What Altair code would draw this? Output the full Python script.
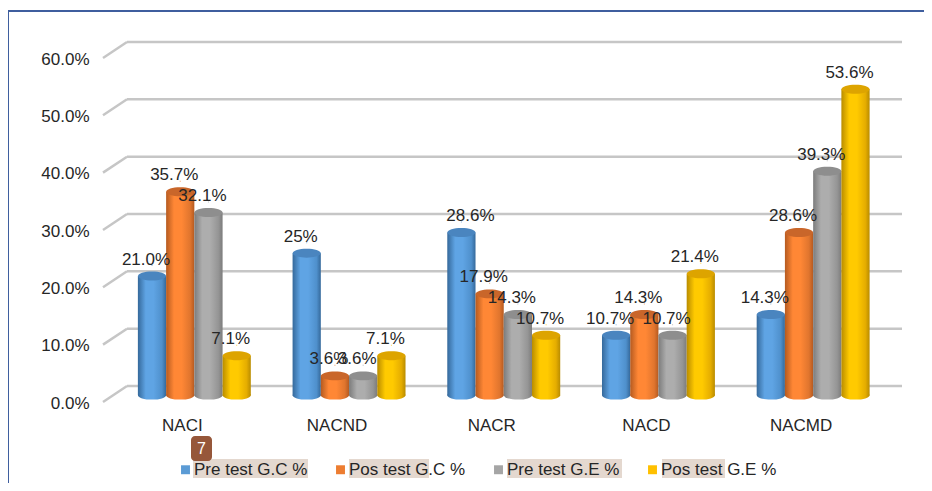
import altair as alt
import pandas as pd

categories = ["NACI", "NACND", "NACR", "NACD", "NACMD"]
series = ["Pre test G.C %", "Pos test G.C %", "Pre test G.E %", "Pos test G.E %"]
pre_gc = [0.21, 0.25, 0.286, 0.107, 0.143]
pos_gc = [0.357, 0.036, 0.179, 0.143, 0.286]
pre_ge = [0.321, 0.036, 0.143, 0.107, 0.393]
pos_ge = [0.071, 0.071, 0.107, 0.214, 0.536]
pre_gc_labels = ["21.0%", "25%", "28.6%", "10.7%", "14.3%"]
pos_gc_labels = ["35.7%", "3.6%", "17.9%", "14.3%", "28.6%"]
pre_ge_labels = ["32.1%", "3.6%", "14.3%", "10.7%", "39.3%"]
pos_ge_labels = ["7.1%", "7.1%", "10.7%", "21.4%", "53.6%"]
grid_values = [0, 0.1, 0.2, 0.3, 0.4, 0.5, 0.6]

swatches = ["#5B9BD5", "#ED7D31", "#A5A5A5", "#FFC000"]
caps = ["#4A85BF", "#C9662A", "#8E8E8E", "#DDA400"]
shades = [
    ("#35699B", "#5FA4E4", "#4F90CC"),
    ("#B55A20", "#FF8735", "#E0752E"),
    ("#7C7C7C", "#ADADAD", "#959595"),
    ("#B98C00", "#FFCA00", "#E5AD00"),
]
FONT = "Liberation Sans"
FS = 17
INK = "#262626"

rows = []
for s, vals, labs in zip(series, [pre_gc, pos_gc, pre_ge, pos_ge],
                         [pre_gc_labels, pos_gc_labels, pre_ge_labels, pos_ge_labels]):
    for c, v, l in zip(categories, vals, labs):
        rows.append({"cat": c, "series": s, "v": v, "label": l, "base": 0.005})
df = pd.DataFrame(rows)
grid = pd.DataFrame({"v": grid_values})
grid["v2"] = grid["v"] - 0.0279

yscale = alt.Scale(domain=[0, 0.6], range=[344, 0], nice=False, clamp=False)
xscale = alt.Scale(domain=categories, range=[14, 787.5], paddingInner=0.27, paddingOuter=0.135)
oscale = alt.Scale(domain=series)
YAXIS = alt.Axis(format=".1%", values=grid_values, grid=False, domain=False, ticks=False,
                 labelPadding=14, labelOffset=17, labelFontSize=FS, labelFont=FONT,
                 labelColor=INK)
Y = alt.Y("v:Q", scale=yscale, title=None, axis=YAXIS)
YBASE = alt.Y("base:Q", scale=yscale, title=None, axis=YAXIS)
X = alt.X("cat:N", scale=xscale, title=None, sort=categories,
          axis=alt.Axis(domain=False, ticks=False, labelAngle=0, labelPadding=31, labelOffset=-12,
                        labelFontSize=FS, labelFont=FONT, labelColor=INK))
XO = alt.XOffset("series:N", scale=oscale, sort=series)

ELLIPSE = "M-1,0A1,0.32,0,1,1,1,0A1,0.32,0,1,1,-1,0Z"

back = alt.Chart(grid).mark_rule(color="#C6C6C6", strokeWidth=2.5).encode(
    y=Y, x=alt.value(24), x2=alt.value(799))
diag = alt.Chart(grid).mark_rule(color="#C6C6C6", strokeWidth=2.5).encode(
    y=Y, y2="v2:Q", x=alt.value(24), x2=alt.value(0))

# hidden under the bars: gives the legend its colour scale
key = alt.Chart(df).mark_square(size=1).encode(
    x=X, y=Y, xOffset=XO,
    color=alt.Color("series:N", scale=alt.Scale(domain=series, range=swatches), sort=series,
                    legend=alt.Legend(orient="none", legendX=74, legendY=419, direction="horizontal",
                                      columns=4, title=None, symbolType="square", symbolSize=80,
                                      symbolOpacity=1,
                                      labelFont=FONT, labelFontSize=FS, labelColor=INK,
                                      labelOffset=0, columnPadding=24, symbolStrokeWidth=0)))

layers = [back, diag, key]
for s, cap, (dark, mid, soft) in zip(series, caps, shades):
    grad = alt.Gradient(gradient="linear", x1=0, x2=1, y1=0, y2=0, stops=[
        alt.GradientStop(offset=0, color=dark), alt.GradientStop(offset=0.28, color=mid),
        alt.GradientStop(offset=0.55, color=mid), alt.GradientStop(offset=0.85, color=soft),
        alt.GradientStop(offset=1, color=dark)])
    base = alt.Chart(df).transform_filter(alt.datum.series == s)
    layers.append(base.mark_point(shape=ELLIPSE, filled=True, fill=grad, opacity=1, size=784, yOffset=12).encode(
        x=X, xOffset=XO, y=YBASE))
    layers.append(base.mark_bar(fill=grad, yOffset=10.5, y2Offset=12).encode(
        x=X, xOffset=XO, y=Y, y2="base:Q"))
    layers.append(base.mark_point(shape=ELLIPSE, filled=True, fill=cap, opacity=1, size=784, yOffset=10.5).encode(
        x=X, xOffset=XO, y=Y))

labels = alt.Chart(df).transform_filter(
    "!(datum.cat == 'NACR' && datum.series == 'Pre test G.C %')"
).mark_text(font=FONT, fontSize=FS, color=INK, dx=-6, dy=-6).encode(x=X, xOffset=XO, y=Y, text="label:N")
moved = alt.Chart(df).transform_filter(
    "datum.cat == 'NACR' && datum.series == 'Pre test G.C %'"
).mark_text(font=FONT, fontSize=FS, color=INK, dx=9, dy=-6).encode(x=X, xOffset=XO, y=Y, text="label:N")
layers += [labels, moved]

anchor = pd.DataFrame({"i": [0]})
A = alt.Chart(anchor)
frame_color = "#3F5E9E"
layers += [
    A.mark_rule(color=frame_color, strokeWidth=2).encode(x=alt.value(-95), x2=alt.value(821), y=alt.value(-31)),
    A.mark_rule(color=frame_color, strokeWidth=2).encode(x=alt.value(-95), y=alt.value(-31), y2=alt.value(441)),
]
for x0, x1 in [(90, 205), (246, 326), (404, 519), (559, 622)]:
    layers.append(A.mark_rect(color="#E4D8CF").encode(
        x=alt.value(x0), x2=alt.value(x1), y=alt.value(417), y2=alt.value(436)))
layers += [
    A.mark_rect(color="#96573A", cornerRadius=4).encode(
        x=alt.value(88), x2=alt.value(109), y=alt.value(394), y2=alt.value(419)),
    A.mark_text(text="7", color="white", font=FONT, fontSize=16).encode(
        x=alt.value(98.5), y=alt.value(407)),
]

chart = alt.layer(*layers).properties(
    width=799, height=344,
    padding={"left": 95, "top": 34, "right": 22, "bottom": 97},
    autosize=alt.AutoSizeParams(type="none"),
).configure_view(stroke=None)

chart.save("out.html", embed_options={"renderer": "svg", "actions": False})
